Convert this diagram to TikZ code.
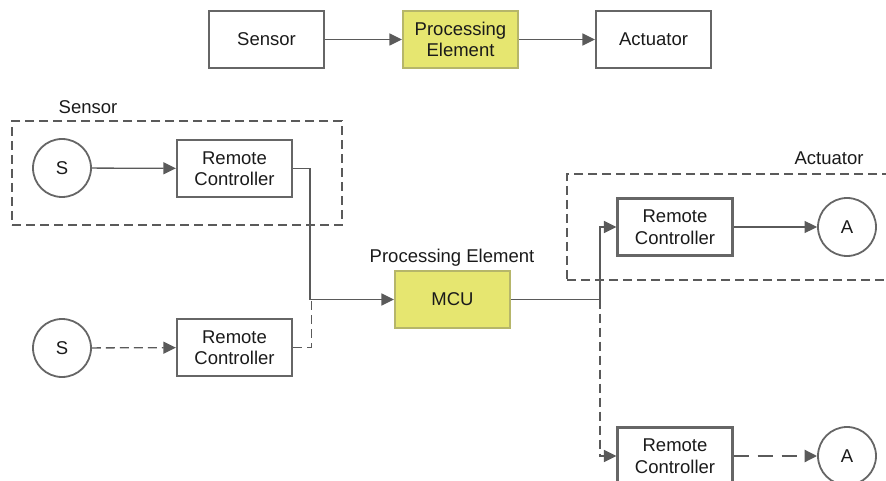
\documentclass[tikz,border=0pt]{standalone}
\usepackage{fontspec}
\setmainfont{Liberation Sans}
\usetikzlibrary{arrows.meta}
\definecolor{linegray}{HTML}{5A5A5A}
\definecolor{boxgray}{HTML}{666666}
\definecolor{peyellow}{HTML}{E6E670}
\definecolor{peborder}{HTML}{B6B66A}
\definecolor{txt}{HTML}{1A1A1A}
\begin{document}
\begin{tikzpicture}[x=1pt,y=-1pt,
  box/.style={draw=boxgray, line width=2.2pt, minimum width=115pt, minimum height=57pt, inner sep=0pt, align=center, font=\fontsize{18.5}{21.5}\selectfont, text=txt},
  pebox/.style={box, fill=peyellow, draw=peborder},
  circ/.style={circle, draw=boxgray, line width=1.8pt, minimum size=58pt, inner sep=0pt, font=\fontsize{18.5}{21.5}\selectfont, text=txt},
  lbl/.style={font=\fontsize{18.5}{21.5}\selectfont, text=txt, inner sep=0pt},
  tip/.style={-{Triangle[length=12.5pt,width=12pt]}},
  conn/.style={draw=linegray, line width=1.3pt, tip},
  dconn/.style={conn, dash pattern=on 9pt off 5pt},
  tdconn/.style={conn, line width=2.4pt, dash pattern=on 15pt off 9pt},
  grp/.style={draw=linegray, line width=1.3pt, dash pattern=on 9pt off 5pt, inner sep=0pt}]
\useasboundingbox (0,0) rectangle (886,481);
\clip (0,0) rectangle (886,481);
% top row
\node[box] (tS) at (266.5,39.5) {Sensor};
\node[pebox] (tPE) at (460.5,39.5) {Processing\\Element};
\node[box] (tA) at (653.5,39.5) {Actuator};
\draw[conn] (tS) -- (tPE);
\draw[conn] (tPE) -- (tA);
% groups
\node[grp, minimum width=330pt, minimum height=104pt] (gS) at (177,173) {};
\node[lbl] (lS) at (88,107) {Sensor};
\node[grp, minimum width=340pt, minimum height=106pt] (gA) at (737,227) {};
\node[lbl] (lA) at (829,158) {Actuator};
% sensors
\node[circ] (s1) at (62,168) {S};
\node[box] (rc1) at (234.5,168.5) {Remote\\Controller};
\node[circ] (s2) at (62,348) {S};
\node[box] (rc2) at (234.5,347.5) {Remote\\Controller};
% MCU
\node[pebox] (mcu) at (452.5,299.5) {MCU};
\node[lbl] (lPE) at (452,258) {Processing Element};
% actuators
\node[box] (rc3) at (675,227) {Remote\\Controller};
\node[circ] (a1) at (847,227) {A};
\node[box] (rc4) at (675,456) {Remote\\Controller};
\node[circ] (a2) at (847,456) {A};
% junctions
\coordinate (j1) at (310,299.5);
\coordinate (j2) at (311.5,299.5);
\coordinate (j3) at (600,299.5);
% connectors
\draw[conn] (s1) -- (rc1);
\draw[dconn] (s2) -- (rc2);
\draw[conn] (rc1.east) -| (j1) -- (mcu.west);
\draw[draw=linegray, line width=1.3pt, dash pattern=on 9pt off 5pt] (rc2.east) -| (j2);
\draw[conn] (mcu.east) -- (j3) |- (rc3.west);
\draw[dconn] (j3) |- (rc4.west);
\draw[conn] (rc3) -- (a1);
\draw[tdconn] (rc4) -- (a2);
\end{tikzpicture}
\end{document}
